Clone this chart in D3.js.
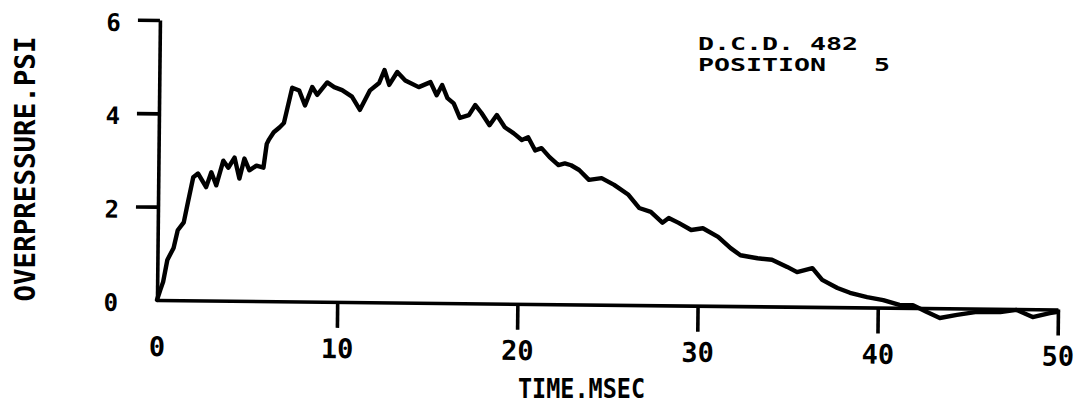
<!DOCTYPE html>
<html>
<head>
<meta charset="utf-8">
<script src="https://cdn.jsdelivr.net/npm/d3@7"></script>
<style>
  html, body { margin: 0; padding: 0; background: #fff; }
  svg { display: block; }
  text { font-family: "DejaVu Sans Mono", "Liberation Mono", monospace; font-weight: bold; fill: #000; }
</style>
</head>
<body>
<svg id="chart" width="1081" height="409"></svg>
<script>
// ---- data ----
const timeMs = [0, 0.17, 0.33, 0.55, 0.89, 1.11, 1.44, 1.66, 1.94, 2.2, 2.66, 2.94, 3.22, 3.6, 3.88, 4.22, 4.5, 4.77, 5.05, 5.44, 5.83, 6.0, 6.1, 6.38, 6.71, 6.94, 7.38, 7.77, 8.1, 8.49, 8.77, 9.32, 9.71, 10.15, 10.7, 11.15, 11.7, 12.2, 12.49, 12.76, 13.2, 13.65, 14.4, 15.05, 15.4, 15.7, 16.0, 16.35, 16.7, 17.2, 17.55, 17.9, 18.35, 18.75, 19.2, 19.7, 20.15, 20.5, 20.9, 21.25, 21.7, 22.2, 22.55, 22.9, 23.35, 23.9, 24.6, 25.3, 26.1, 26.7, 27.35, 28.0, 28.35, 28.9, 29.6, 30.25, 31.1, 31.8, 32.35, 33.3, 34.1, 34.95, 35.5, 36.35, 36.9, 37.75, 38.45, 39.4, 40.3, 41.2, 41.95, 42.7, 43.45, 44.4, 45.5, 46.8, 47.7, 48.6, 49.55, 50];
const overpressurePsi = [0, 0.21, 0.39, 0.86, 1.12, 1.5, 1.67, 2.1, 2.64, 2.72, 2.43, 2.75, 2.47, 3.0, 2.85, 3.07, 2.62, 3.05, 2.8, 2.9, 2.86, 3.37, 3.45, 3.62, 3.73, 3.82, 4.58, 4.52, 4.2, 4.6, 4.43, 4.7, 4.6, 4.54, 4.4, 4.12, 4.54, 4.7, 4.98, 4.66, 4.94, 4.76, 4.62, 4.73, 4.45, 4.67, 4.39, 4.28, 3.97, 4.03, 4.25, 4.08, 3.82, 4.04, 3.78, 3.65, 3.51, 3.57, 3.29, 3.34, 3.15, 2.98, 3.02, 2.98, 2.88, 2.67, 2.71, 2.57, 2.36, 2.08, 2.0, 1.77, 1.87, 1.77, 1.62, 1.66, 1.48, 1.24, 1.09, 1.03, 1.0, 0.85, 0.74, 0.83, 0.58, 0.41, 0.31, 0.22, 0.16, 0.06, 0.06, -0.08, -0.21, -0.14, -0.07, -0.07, -0.02, -0.17, -0.08, -0.05];
const xTicks = [0, 10, 20, 30, 40, 50];
const yTicks = [0, 2, 4, 6];
const xTitle = "TIME.MSEC";
const yTitle = "OVERPRESSURE.PSI";
const noteLines = ["D.C.D. 482", "POSITION   5"];

const svg = d3.select("#chart");
svg.append("rect").attr("width", 1081).attr("height", 409).attr("fill", "#fff");

const x = d3.scaleLinear().domain([0, 50]).range([157, 1058]);
const y = d3.scaleLinear().domain([0, 6]).range([300, 20]);

// scanned plot is slightly rotated
const g = svg.append("g").attr("transform", "rotate(0.6,157,300)");

// x axis
const xAxis = g.append("g").attr("transform", `translate(0,${y(0)})`)
  .call(d3.axisBottom(x).tickValues(xTicks).tickSizeInner(26).tickSizeOuter(0).tickPadding(11).tickFormat(d3.format("d")));
// y axis
const yAxis = g.append("g").attr("transform", `translate(${x(0)},0)`)
  .call(d3.axisLeft(y).tickValues(yTicks).tickSizeInner(22).tickSizeOuter(0).tickPadding(17).tickFormat(d3.format("d")));

[xAxis, yAxis].forEach(a => {
  a.select(".domain").attr("stroke", "#000").attr("stroke-width", 3.6);
  a.selectAll(".tick line").attr("stroke", "#000").attr("stroke-width", 3.6)
    .attr("display", d => d === 0 ? "none" : null);
  a.selectAll(".tick text").attr("fill", "#000")
    .style("font-family", '"DejaVu Sans Mono", monospace').style("font-weight", "bold");
});
xAxis.selectAll(".tick text").style("font-size", "27px");
yAxis.selectAll(".tick text").style("font-size", "24px").attr("dy", "0.45em");

// trace
const pts = timeMs.map((t, i) => [t, overpressurePsi[i]]);
g.append("path")
  .datum(pts)
  .attr("fill", "none")
  .attr("stroke", "#000")
  .attr("stroke-width", 4.4)
  .attr("stroke-linejoin", "round")
  .attr("stroke-linecap", "round")
  .attr("d", d3.line().x(d => x(d[0])).y(d => y(d[1])));

// axis titles
svg.append("text")
  .attr("x", 518).attr("y", 398)
  .attr("textLength", 127).attr("lengthAdjust", "spacingAndGlyphs")
  .style("font-size", "26px")
  .text(xTitle);

svg.append("text")
  .attr("transform", "translate(35,169) rotate(-90)")
  .attr("text-anchor", "middle")
  .attr("textLength", 265).attr("lengthAdjust", "spacingAndGlyphs")
  .style("font-size", "28px")
  .text(yTitle);

// annotation
const noteWidths = [160, 192];
noteLines.forEach((s, i) => {
  svg.append("text")
    .attr("x", 698).attr("y", 50 + i * 21)
    .attr("textLength", noteWidths[i]).attr("lengthAdjust", "spacingAndGlyphs")
    .attr("xml:space", "preserve")
    .style("white-space", "pre")
    .style("font-size", "18px")
    .text(s);
});
</script>
</body>
</html>
